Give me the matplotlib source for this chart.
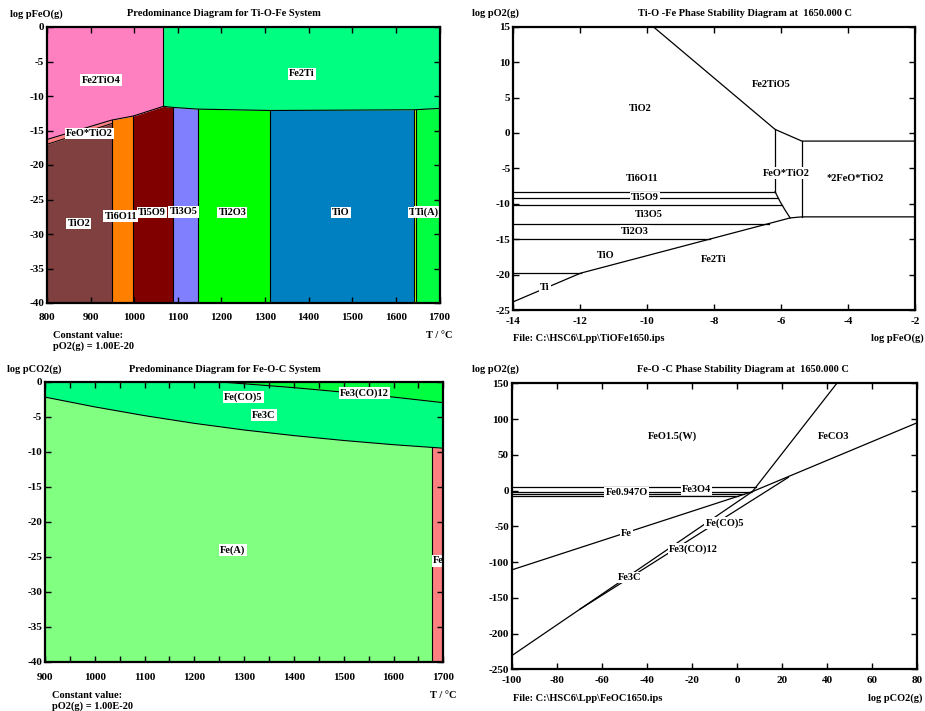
import numpy as np
import matplotlib
matplotlib.use('Agg')
import matplotlib.pyplot as plt

plt.rcParams['font.family'] = ['Liberation Serif', 'DejaVu Serif']
plt.rcParams['font.weight'] = 'bold'
plt.rcParams['font.size'] = 7.5
plt.rcParams['axes.unicode_minus'] = False

# ---- Ti-O-Fe predominance diagram (top left) ----
ti_low_names = ['TiO2', 'Ti6O11', 'Ti5O9', 'Ti3O5', 'Ti2O3', 'TiO', 'T', 'Ti(A)']
ti_low_edges = [800, 948, 998, 1088, 1146, 1312, 1641, 1645, 1700]
ti_low_colors = ['#804040', '#FF8000', '#800000', '#8080FF', '#00FF00', '#0080C0', '#C0FF00', '#00FF40']
ti_low_lab_t = [873, 969, 1040, 1113, 1225, 1474, 1638, 1672]
ti_low_lab_p = [-28.5, -27.4, -26.9, -26.8, -26.9, -26.9, -26.9, -26.8]
# lower edge of Fe2TiO4 / Fe2Ti fields
bnd_t = [800, 948, 998, 1067, 1088, 1146, 1312, 1641, 1700]
bnd_p = [-16.3, -13.5, -12.9, -11.5, -11.65, -11.9, -12.1, -12.0, -11.8]
fe2tio4_end = 1067
# top of TiO2 field, under the thin FeO*TiO2 band
tio2_top_t = [800, 948]
tio2_top_p = [-17.0, -14.0]
ti_up_labels = [('Fe2TiO4', 924, -7.7), ('Fe2Ti', 1384, -6.8), ('FeO*TiO2', 897, -15.4)]

# ---- Fe-O-C predominance diagram (bottom left) ----
fec_t = [900, 1000, 1100, 1200, 1300, 1400, 1500, 1600, 1680, 1700]
fec_p = [-2.2, -3.6, -4.85, -5.95, -6.9, -7.7, -8.4, -9.0, -9.4, -9.5]
co12_t = [1245, 1400, 1500, 1600, 1700]
co12_p = [0.0, -0.85, -1.5, -2.2, -3.0]
fe_edge = 1678
fec_labels = [('Fe(CO)5', 1298, -2.2), ('Fe3(CO)12', 1541, -1.66), ('Fe3C', 1340, -4.76),
              ('Fe(A)', 1277, -24.0), ('Fe', 1690, -25.6)]

# ---- Ti-O-Fe stability diagram at 1650 C (top right) ----
tio2_bnd_x = [-9.82, -6.18, -5.38, -2.0]
tio2_bnd_y = [15.0, 0.5, -1.15, -1.15]
curve_x = [-6.18, -6.03, -5.88, -5.73]
curve_y = [-8.3, -9.7, -10.9, -12.0]
fe2ti_x = [-14.0, -11.99, -5.73, -5.38, -2.0]
fe2ti_y = [-23.84, -19.8, -12.0, -11.85, -11.85]
oxide_levels = [-8.3, -9.25, -10.2, -12.8, -15.0, -19.8]
stab1_labels = [('TiO2', -10.2, 3.5), ('Fe2TiO5', -6.28, 6.9), ('FeO*TiO2', -5.85, -5.66),
                ('*2FeO*TiO2', -3.79, -6.47), ('Ti6O11', -10.16, -6.5), ('Ti5O9', -10.06, -9.1),
                ('Ti3O5', -9.94, -11.5), ('Ti2O3', -10.36, -13.86), ('TiO', -11.23, -17.35),
                ('Fe2Ti', -8.02, -17.8), ('Ti', -13.06, -21.8)]

# ---- Fe-O-C stability diagram at 1650 C (bottom right) ----
node = (6.8, -1.5)
steep_end = (44.3, 150.0)
feco3_end = (80.0, 94.9)
fe_start = (-100.0, -111.0)
fe3c_start = (-100.0, -231.0)
co_split_x = -69.7
co5_end = (22.8, 18.5)
feo_levels = [4.5, -2.3, -5.2, -8.0]
stab2_labels = [('FeO1.5(W)', -28.6, 76.3), ('FeCO3', 42.7, 75.3), ('Fe0.947O', -49, -2.8),
                ('Fe3O4', -17.9, 1.9), ('Fe', -49, -59.5), ('Fe(CO)5', -5.5, -45.5),
                ('Fe3(CO)12', -19.4, -81.7), ('Fe3C', -47.5, -121.9)]

W, H = 925, 711
fig = plt.figure(figsize=(W / 100, H / 100), dpi=100)


def box(l, t, r, b):
    return [l / W, 1 - b / H, (r - l) / W, (b - t) / H]


def ftext(x, y, s, ha='left'):
    fig.text(x / W, 1 - y / H, s, ha=ha, va='center', fontweight='bold')


def style(ax, xlim, ylim, xstep, ystep, xpad, xminor=None):
    ax.set_xlim(xlim)
    ax.set_ylim(ylim)
    xt = np.arange(xlim[0], xlim[1] + xstep / 2, xstep)
    yt = np.arange(ylim[0], ylim[1] + ystep / 2, ystep)
    ax.set_xticks(xt)
    ax.set_xticklabels([str(int(v)) for v in xt])
    ax.set_yticks(yt)
    ax.set_yticklabels([str(int(v)) for v in yt])
    if xminor:
        ax.set_xticks(np.arange(xlim[0], xlim[1] + 1, xminor), minor=True)
    ax.tick_params(which='both', direction='in', top=True, right=True, length=4, width=1,
                   labelsize=8)
    ax.tick_params(axis='x', pad=xpad)
    ax.tick_params(axis='y', pad=2)
    for lab in ax.get_xticklabels() + ax.get_yticklabels():
        lab.set_fontweight('bold')
    for s in ax.spines.values():
        s.set_linewidth(1.6)
        s.set_zorder(5)


def label(ax, s, x, y):
    ax.text(x, y, s, ha='center', va='center', fontweight='bold', zorder=4,
            bbox=dict(facecolor='white', edgecolor='none', pad=0.8))


# ============ top left ============
ax1 = fig.add_axes(box(47, 27, 439.5, 303))
for i, name in enumerate(ti_low_names):
    t = np.linspace(ti_low_edges[i], ti_low_edges[i + 1], 60)
    if name == 'TiO2':
        top = np.interp(t, tio2_top_t, tio2_top_p)
        ax1.fill_between(t, top, np.interp(t, bnd_t, bnd_p), color='#FF8080', lw=0)
        ax1.plot(t, top, color='black', lw=0.7)
    else:
        top = np.interp(t, bnd_t, bnd_p)
    ax1.fill_between(t, -40, top, color=ti_low_colors[i], lw=0)
    label(ax1, name, ti_low_lab_t[i], ti_low_lab_p[i])
    if i > 0:
        e = ti_low_edges[i]
        ax1.plot([e, e], [-40, np.interp(e, bnd_t, bnd_p)], color='black', lw=0.8)
t = np.linspace(800, fe2tio4_end, 60)
ax1.fill_between(t, np.interp(t, bnd_t, bnd_p), 0, color='#FF80C0', lw=0)
t = np.linspace(fe2tio4_end, 1700, 60)
ax1.fill_between(t, np.interp(t, bnd_t, bnd_p), 0, color='#00FF80', lw=0)
ax1.plot(bnd_t, bnd_p, color='black', lw=0.8)
ax1.plot([fe2tio4_end, fe2tio4_end], [np.interp(fe2tio4_end, bnd_t, bnd_p), 0], color='black', lw=0.8)
for s, x, y in ti_up_labels:
    label(ax1, s, x, y)
style(ax1, (800, 1700), (-40, 0), 100, 5, 7.5)

ftext(10, 14, 'log pFeO(g)')
ftext(224, 14, 'Predominance Diagram for Ti-O-Fe System', ha='center')
ftext(53, 335.5, 'Constant value:')
ftext(53, 346.5, 'pO2(g) = 1.00E-20')
ftext(453, 335.5, 'T / °C', ha='right')

# ============ bottom left ============
ax3 = fig.add_axes(box(45, 381.7, 443.3, 661.7))
t = np.linspace(900, 1700, 200)
lo = np.interp(t, fec_t, fec_p)
hi = np.where(t >= co12_t[0], np.interp(t, co12_t, co12_p), 0)
ax3.fill_between(t, lo, hi, color='#00FF80', lw=0)
ax3.fill_between(t, hi, 0, color='#00FF40', lw=0)
t1 = np.linspace(900, fe_edge, 200)
ax3.fill_between(t1, -40, np.interp(t1, fec_t, fec_p), color='#80FF80', lw=0)
t2 = np.linspace(fe_edge, 1700, 20)
ax3.fill_between(t2, -40, np.interp(t2, fec_t, fec_p), color='#FF8080', lw=0)
ax3.plot(fec_t, fec_p, color='black', lw=0.8)
ax3.plot(co12_t, co12_p, color='black', lw=0.8)
ax3.plot([fe_edge, fe_edge], [-40, np.interp(fe_edge, fec_t, fec_p)], color='black', lw=0.8)
for s, x, y in fec_labels:
    label(ax3, s, x, y)
style(ax3, (900, 1700), (-40, 0), 100, 5, 8, xminor=50)

ftext(7, 369, 'log pCO2(g)')
ftext(225, 369, 'Predominance Diagram for Fe-O-C System', ha='center')
ftext(52, 695, 'Constant value:')
ftext(52, 706, 'pO2(g) = 1.00E-20')
ftext(457, 695, 'T / °C', ha='right')

# ============ top right ============
ax2 = fig.add_axes(box(513.3, 26.7, 915, 310))
lk = dict(color='black', lw=0.9)
ax2.plot(tio2_bnd_x, tio2_bnd_y, **lk)
ax2.plot([tio2_bnd_x[1]] * 2, [tio2_bnd_y[1], curve_y[0]], **lk)
ax2.plot([tio2_bnd_x[2]] * 2, [tio2_bnd_y[2], fe2ti_y[3]], **lk)
ax2.plot(curve_x, curve_y, **lk)
ax2.plot(fe2ti_x, fe2ti_y, **lk)
edge_y = fe2ti_y[:3] + curve_y[::-1][1:]
edge_x = fe2ti_x[:3] + curve_x[::-1][1:]
for lev in oxide_levels:
    ax2.plot([-14, np.interp(lev, edge_y, edge_x)], [lev, lev], **lk)
for s, x, y in stab1_labels:
    label(ax2, s, x, y)
style(ax2, (-14, -2), (-25, 15), 2, 5, 5)

ftext(472, 13, 'log pO2(g)')
ftext(745, 13, 'Ti-O -Fe Phase Stability Diagram at  1650.000 C', ha='center')
ftext(513.3, 338.5, 'File: C:\\HSC6\\Lpp\\TiOFe1650.ips')
ftext(924, 338.5, 'log pFeO(g)', ha='right')

# ============ bottom right ============
ax4 = fig.add_axes(box(511.7, 383.3, 917.3, 669.3))
ax4.plot([node[0], steep_end[0]], [node[1], steep_end[1]], **lk)
ax4.plot([node[0], feco3_end[0]], [node[1], feco3_end[1]], **lk)
ax4.plot([fe_start[0], node[0]], [fe_start[1], node[1]], **lk)
ax4.plot([fe3c_start[0], node[0]], [fe3c_start[1], node[1]], **lk)
split_y = np.interp(co_split_x, [fe3c_start[0], node[0]], [fe3c_start[1], node[1]])
ax4.plot([co_split_x, co5_end[0]], [split_y, co5_end[1]], **lk)
for lev in feo_levels:
    if lev > node[1]:
        xe = np.interp(lev, [node[1], steep_end[1]], [node[0], steep_end[0]])
    else:
        xe = np.interp(lev, [fe_start[1], node[1]], [fe_start[0], node[0]])
    ax4.plot([-100, xe], [lev, lev], **lk)
for s, x, y in stab2_labels:
    label(ax4, s, x, y)
style(ax4, (-100, 80), (-250, 150), 20, 50, 5)

ftext(472, 369, 'log pO2(g)')
ftext(743, 369, 'Fe-O -C Phase Stability Diagram at  1650.000 C', ha='center')
ftext(513, 698.5, 'File: C:\\HSC6\\Lpp\\FeOC1650.ips')
ftext(923, 698.5, 'log pCO2(g)', ha='right')

fig.savefig('out.png', dpi=100)
